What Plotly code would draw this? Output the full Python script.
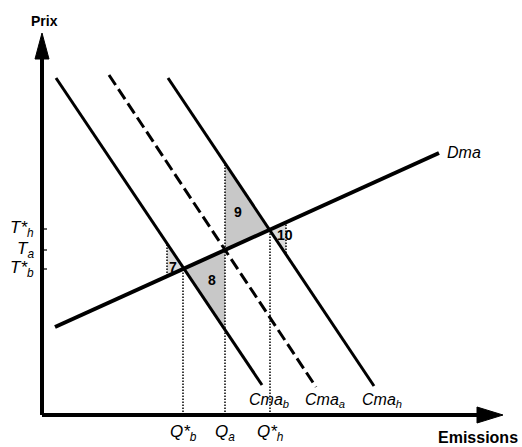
import plotly.graph_objects as go

# ---- data (economic units: emissions on x, price on y) ----
dma_q = [13, 397]
dma_p = [88, 262]
cma_b_q = [14, 220]
cma_b_p = [337, 30]
cma_a_q = [67, 274]
cma_a_p = [340, 28]
cma_h_q = [126, 332]
cma_h_p = [337, 29]

q_vals = [141, 183, 228]          # Q*b, Qa, Q*h
q_labels = ["Q*<sub>b</sub>", "Q<sub>a</sub>", "Q*<sub>h</sub>"]
t_vals = [186, 165, 146]          # T*h, Ta, T*b
t_labels = ["T*<sub>h</sub>", "T<sub>a</sub>", "T*<sub>b</sub>"]

tri9_q = [183, 183, 228]
tri9_p = [251.5, 165, 186]
tri8_q = [141, 183, 183]
tri8_p = [146, 165, 83]
tri7_q = [125, 125, 141]
tri7_p = [170, 139, 146]
tri10_q = [228, 244, 244]
tri10_p = [186, 193, 162]

area_labels = ["7", "8", "9", "10"]
area_q = [131, 170, 196, 243]
area_p = [148, 135, 203, 180]

# vertical dotted guides: (q, p_low, p_high)
guide_q = [141, 183, 228, 125, 244]
guide_lo = [0, 0, 0, 139, 162]
guide_hi = [146, 251.5, 186, 170, 193]

x_axis_end = 437
y_axis_end = 360

fig = go.Figure()

GRAY = "#c8c8c8"
for tq, tp, col in [(tri9_q, tri9_p, GRAY), (tri8_q, tri8_p, GRAY),
                    (tri7_q, tri7_p, "#dcdcdc"), (tri10_q, tri10_p, "#dcdcdc")]:
    fig.add_trace(go.Scatter(x=tq + [tq[0]], y=tp + [tp[0]], fill="toself",
                             fillcolor=col, mode="lines", line=dict(width=0),
                             hoverinfo="skip"))

for gq, lo, hi in zip(guide_q, guide_lo, guide_hi):
    fig.add_trace(go.Scatter(x=[gq, gq], y=[lo, hi], mode="lines",
                             line=dict(color="black", width=1.5, dash="1.5px,1.5px"),
                             hoverinfo="skip"))

fig.add_trace(go.Scatter(x=cma_b_q, y=cma_b_p, mode="lines",
                         line=dict(color="black", width=3)))
fig.add_trace(go.Scatter(x=cma_a_q, y=cma_a_p, mode="lines",
                         line=dict(color="black", width=3, dash="12px,5px")))
fig.add_trace(go.Scatter(x=cma_h_q, y=cma_h_p, mode="lines",
                         line=dict(color="black", width=3)))
fig.add_trace(go.Scatter(x=dma_q, y=dma_p, mode="lines",
                         line=dict(color="black", width=4)))

# axes
fig.add_trace(go.Scatter(x=[0, 0], y=[0, y_axis_end], mode="lines",
                         line=dict(color="black", width=4)))
fig.add_trace(go.Scatter(x=[0, x_axis_end], y=[0, 0], mode="lines",
                         line=dict(color="black", width=4)))
# arrow heads
fig.add_trace(go.Scatter(x=[-7, 0, 7, -7], y=[356, 382, 356, 356], fill="toself",
                         fillcolor="black", mode="lines", line=dict(color="black", width=1)))
fig.add_trace(go.Scatter(x=[435, 461, 435, 435], y=[-8, 0, 8, -8], fill="toself",
                         fillcolor="black", mode="lines", line=dict(color="black", width=1)))
# y ticks
for tv in t_vals:
    fig.add_trace(go.Scatter(x=[0, 5], y=[tv, tv], mode="lines",
                             line=dict(color="black", width=1.2)))

FONT = "Liberation Sans, Arial, sans-serif"
ann = []
ann.append(dict(x=2, y=394, text="<b>Prix</b>", font=dict(size=14)))
ann.append(dict(x=478, y=-22, text="<b>Emissions</b>", xanchor="right", font=dict(size=16)))
for tv, tl in zip(t_vals, t_labels):
    ann.append(dict(x=-6, y=tv, text="<i>" + tl + "</i>", xanchor="right", font=dict(size=17)))
for qv, ql in zip(q_vals, q_labels):
    ann.append(dict(x=qv, y=-18, text="<i>" + ql + "</i>", font=dict(size=17)))
ann.append(dict(x=205, y=15, text="<i>Cma<sub>b</sub></i>", xanchor="left", font=dict(size=16)))
ann.append(dict(x=261, y=15, text="<i>Cma<sub>a</sub></i>", xanchor="left", font=dict(size=16)))
ann.append(dict(x=318, y=15, text="<i>Cma<sub>h</sub></i>", xanchor="left", font=dict(size=16)))
ann.append(dict(x=403, y=263, text="<i>Dma</i>", xanchor="left", font=dict(size=16)))
for al, aq, ap in zip(area_labels, area_q, area_p):
    ann.append(dict(x=aq, y=ap, text="<b>" + al + "</b>", font=dict(size=14)))

for a in ann:
    a.update(showarrow=False, xref="x", yref="y")
    a.setdefault("xanchor", "center")
    a["font"].update(family=FONT, color="black")

fig.update_layout(
    width=522, height=447,
    margin=dict(l=0, r=0, t=0, b=0),
    paper_bgcolor="white", plot_bgcolor="white",
    showlegend=False,
    xaxis=dict(range=[-42, 480], visible=False, fixedrange=True),
    yaxis=dict(range=[-32, 415], visible=False, fixedrange=True),
    annotations=ann,
)

fig.write_html("out.html", config={"displayModeBar": False},
               post_script="document.body.style.margin='0';document.body.style.overflow='hidden';")
